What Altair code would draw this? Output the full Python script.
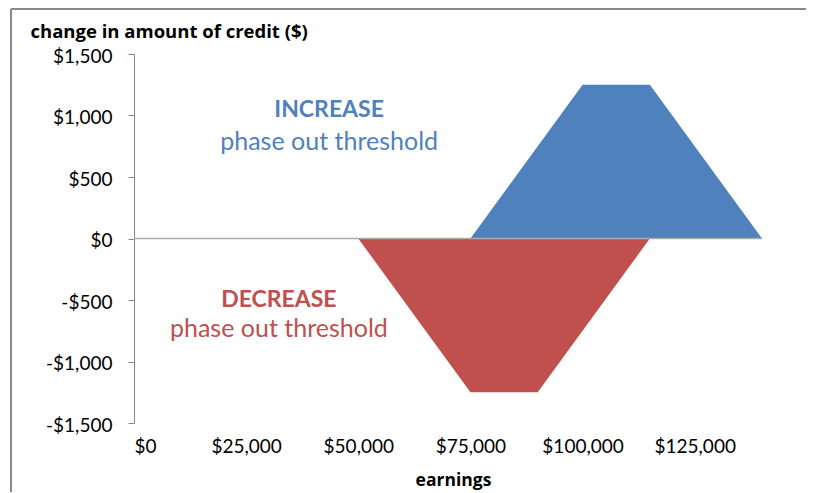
import altair as alt
import pandas as pd

# Data
decrease_x = [0, 50000, 75000, 90000, 115000, 140000]
decrease_y = [0, 0, -1250, -1250, 0, 0]
increase_x = [0, 75000, 100000, 115000, 140000]
increase_y = [0, 0, 1250, 1250, 0]

x_ticks = [0, 25000, 50000, 75000, 100000, 125000]
y_ticks = [-1500, -1000, -500, 0, 500, 1000, 1500]

ann_labels = ["INCREASE", "phase out threshold", "DECREASE", "phase out threshold"]
ann_x = [43500, 43500, 32300, 32300]
ann_y = [1045, 785, -500, -736]
ann_series = ["increase", "increase", "decrease", "decrease"]
ann_bold = ["bold", "normal", "bold", "normal"]

BLUE = "#4F81BD"
RED = "#C0504D"
FONT = "Lato"
TFONT = "Open Sans"

df = pd.concat([
    pd.DataFrame({"earnings": decrease_x, "change": decrease_y, "series": "decrease"}),
    pd.DataFrame({"earnings": increase_x, "change": increase_y, "series": "increase"}),
])
ann = pd.DataFrame({"label": ann_labels, "earnings": ann_x, "change": ann_y,
                    "series": ann_series, "weight": ann_bold})

xscale = alt.Scale(domain=[0, 140000], nice=False, zero=False)
yscale = alt.Scale(domain=[-1500, 1500], nice=False)
color_scale = alt.Scale(domain=["increase", "decrease"], range=[BLUE, RED])

x_enc = alt.X("earnings:Q", scale=xscale, axis=alt.Axis(
    values=x_ticks, title="earnings", grid=False, domain=False, ticks=False,
    labelExpr="'$' + format(datum.value, ',')",
    labelFontSize=19, labelFont=FONT, labelColor="#000", labelPadding=14,
    titleFont=TFONT, titleFontSize=17.5, titleFontWeight="bold", titleColor="#000",
    titleX=319, titleY=62, titleBaseline="alphabetic"))
y_enc = alt.Y("change:Q", scale=yscale, stack=None, axis=alt.Axis(
    values=y_ticks, title="change in amount of credit ($)", grid=False,
    domainColor="#888", tickColor="#888", tickSize=6, domainWidth=1, tickWidth=1,
    labelExpr="(datum.value < 0 ? '-' : '') + '$' + format(abs(datum.value), ',')",
    labelFontSize=19, labelFont=FONT, labelColor="#000", labelPadding=16, labelOffset=2,
    titleFont=TFONT, titleFontSize=18.5, titleFontWeight="bold", titleColor="#000",
    titleAngle=0, titleAlign="left", titleX=-104, titleY=-17, titleBaseline="alphabetic"))

areas = alt.Chart(df).mark_area(opacity=1).encode(
    x=x_enc, y=y_enc,
    color=alt.Color("series:N", scale=color_scale, legend=None),
    detail="series:N",
)

zero = alt.Chart(pd.DataFrame({"change": [0]})).mark_rule(color="#aaa", strokeWidth=1.5).encode(
    y=alt.Y("change:Q", scale=yscale), x=alt.value(0), x2=alt.value(628))

text_bold = alt.Chart(ann[ann.weight == "bold"]).mark_text(
    font=FONT, fontSize=23, fontWeight="bold", align="center", baseline="middle").encode(
    x=alt.X("earnings:Q", scale=xscale), y=alt.Y("change:Q", scale=yscale), text="label:N",
    color=alt.Color("series:N", scale=color_scale, legend=None))
text_norm = alt.Chart(ann[ann.weight == "normal"]).mark_text(
    font=FONT, fontSize=25, fontWeight="normal", align="center", baseline="middle").encode(
    x=alt.X("earnings:Q", scale=xscale), y=alt.Y("change:Q", scale=yscale), text="label:N",
    color=alt.Color("series:N", scale=color_scale, legend=None))

frame_top = alt.Chart(pd.DataFrame({"a": [0]})).mark_rule(color="#888", strokeWidth=2).encode(
    x=alt.value(-123), x2=alt.value(700), y=alt.value(-45))
frame_left = alt.Chart(pd.DataFrame({"a": [0]})).mark_rule(color="#888", strokeWidth=2).encode(
    x=alt.value(-123), y=alt.value(-45), y2=alt.value(600))

chart = alt.layer(areas, zero, text_bold, text_norm, frame_top, frame_left).properties(
    width=628, height=369,
    background="white",
    autosize=alt.AutoSizeParams(type="none"),
    padding={"left": 126, "top": 46, "right": 44, "bottom": 69},
).configure_view(strokeWidth=0, stroke="transparent")

chart.save("out.html", embed_options={"renderer": "svg", "actions": False})
